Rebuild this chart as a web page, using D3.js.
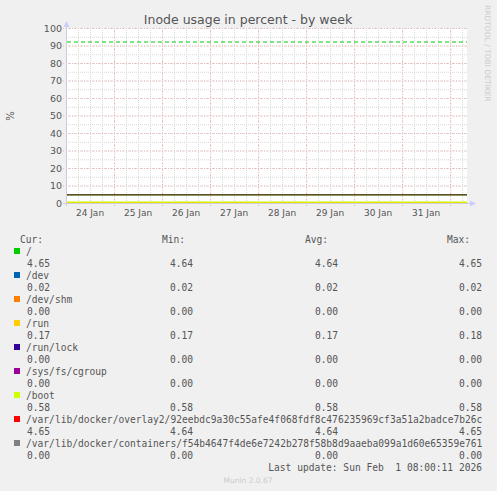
<!DOCTYPE html>
<html><head><meta charset="utf-8">
<script src="https://cdn.jsdelivr.net/npm/d3@7"></script>
<style>body{margin:0;background:#f0f0f0}</style>
</head><body><div id="chart"></div>
<script>
var names = ["/", "/dev", "/dev/shm", "/run", "/run/lock", "/sys/fs/cgroup", "/boot",
  "/var/lib/docker/overlay2/92eebdc9a30c55afe4f068fdf8c476235969cf3a51a2badce7b26c",
  "/var/lib/docker/containers/f54b4647f4de6e7242b278f58b8d9aaeba099a1d60e65359e761"];
var colors = ["#00cc00", "#0066b3", "#ff8000", "#ffcc00", "#330099", "#990099", "#ccff00", "#ff0000", "#808080"];
var cur = ["4.65", "0.02", "0.00", "0.17", "0.00", "0.00", "0.58", "4.65", "0.00"];
var mins = ["4.64", "0.02", "0.00", "0.17", "0.00", "0.00", "0.58", "4.64", "0.00"];
var avgs = ["4.64", "0.02", "0.00", "0.17", "0.00", "0.00", "0.58", "4.64", "0.00"];
var maxs = ["4.65", "0.02", "0.00", "0.18", "0.00", "0.00", "0.58", "4.65", "0.00"];
var warnLevel = 92;
var yTicks = [0, 10, 20, 30, 40, 50, 60, 70, 80, 90, 100];
var dayLabels = ["24 Jan", "25 Jan", "26 Jan", "27 Jan", "28 Jan", "29 Jan", "30 Jan", "31 Jan"];

var W = 497, H = 491;
var svg = d3.select("#chart").append("svg").attr("width", W).attr("height", H);
svg.append("rect").attr("width", W).attr("height", H).attr("fill", "#f0f0f0");

var t0 = new Date(2026, 0, 24, 0, 0), t1 = new Date(2026, 1, 1, 8, 25);
var x = d3.scaleTime().domain([t0, t1]).range([66, 467]);
var y = d3.scaleLinear().domain([0, 100]).range([203, 28]);

svg.append("rect").attr("x", 66).attr("y", 28).attr("width", 401).attr("height", 175).attr("fill", "#fff");

// minor grid
var minorX = d3.timeHour.every(6).range(t0, t1);
svg.selectAll(".mx").data(minorX).enter().append("line")
  .attr("x1", d => x(d) + 0.5).attr("x2", d => x(d) + 0.5).attr("y1", 28).attr("y2", 203)
  .attr("stroke", "#d8d8d8").attr("stroke-dasharray", "1,1");
svg.selectAll(".my").data(d3.range(0, 101, 5)).enter().append("line")
  .attr("x1", 66).attr("x2", 467).attr("y1", d => y(d) + 0.5).attr("y2", d => y(d) + 0.5)
  .attr("stroke", "#d8d8d8").attr("stroke-dasharray", "1,1");
// major grid
var days = d3.timeDay.range(d3.timeDay.offset(t0, 1), t1);
svg.selectAll(".Mx").data(days).enter().append("line")
  .attr("x1", d => x(d) + 0.5).attr("x2", d => x(d) + 0.5).attr("y1", 28).attr("y2", 206)
  .attr("stroke", "#f4b4b4").attr("stroke-dasharray", "1,2");
svg.selectAll(".My").data(yTicks).enter().append("line")
  .attr("x1", 63).attr("x2", 467).attr("y1", d => y(d) + 0.5).attr("y2", d => y(d) + 0.5)
  .attr("stroke", "#f4b4b4").attr("stroke-dasharray", "1,2");

svg.selectAll(".yl").data(yTicks).enter().append("text")
  .attr("x", 62).attr("y", d => y(d) + 3.5).attr("text-anchor", "end")
  .attr("font-family", "DejaVu Sans").attr("font-size", 9.5).attr("fill", "#555").text(d => d);
svg.selectAll(".xl").data(dayLabels).enter().append("text")
  .attr("x", (d, i) => x(d3.timeHour.offset(t0, 24 * i + 12))).attr("y", 216).attr("text-anchor", "middle")
  .attr("font-family", "DejaVu Sans").attr("font-size", 9).attr("fill", "#555").text(d => d);

svg.append("line").attr("x1", 67).attr("x2", 467).attr("y1", y(warnLevel)).attr("y2", y(warnLevel))
  .attr("stroke", "#00cc00").attr("stroke-dasharray", "4,3");

var vals = cur.map(Number);
var order = [0, 1, 2, 4, 5, 8, 3, 6, 7];
order.forEach(function(i) {
  var yy = Math.min(y(vals[i]), 202.5);
  svg.append("line").attr("x1", 67).attr("x2", 467).attr("y1", yy).attr("y2", yy)
    .attr("stroke", i === 7 ? "#600" : colors[i]).attr("stroke-width", 1);
});

svg.append("line").attr("x1", 66.5).attr("x2", 66.5).attr("y1", 24).attr("y2", 206).attr("stroke", "#ccd");
svg.append("line").attr("x1", 63).attr("x2", 471).attr("y1", 203.5).attr("y2", 203.5).attr("stroke", "#ccd");
svg.append("path").attr("d", "M63.5,27 L66.5,21 L69.5,27Z").attr("fill", "#ccf");
svg.append("path").attr("d", "M470,200.5 L476,203.5 L470,206.5Z").attr("fill", "#ccf");

svg.append("text").attr("x", 248).attr("y", 24).attr("text-anchor", "middle")
  .attr("font-family", "DejaVu Sans").attr("font-size", 12.5).attr("fill", "#555").text("Inode usage in percent - by week");
svg.append("text").attr("transform", "translate(14,116) rotate(-90)").attr("text-anchor", "middle")
  .attr("font-family", "DejaVu Sans").attr("font-size", 10).attr("fill", "#555").text("%");
svg.append("text").attr("transform", "translate(485,5) rotate(90)")
  .attr("font-family", "DejaVu Sans").attr("font-size", 7.5).attr("fill", "#ccc").text("RRDTOOL / TOBI OETIKER");

var mono = "DejaVu Sans Mono", fs = 9.6, col = "#555";
function t(xp, yp, s, anchor) {
  svg.append("text").attr("x", xp).attr("y", yp).attr("text-anchor", anchor || "start")
    .attr("font-family", mono).attr("font-size", fs).attr("fill", col).attr("xml:space", "preserve").text(s);
}
t(20, 243, "Cur:"); t(162, 243, "Min:"); t(305, 243, "Avg:"); t(447, 243, "Max:");
names.forEach(function(n, i) {
  var yb = 255 + i * 24;
  svg.append("rect").attr("x", 14).attr("y", yb - 7).attr("width", 6).attr("height", 6).attr("fill", colors[i]);
  t(26, yb, n);
  t(27, yb + 12, cur[i]); t(193, yb + 12, mins[i], "end"); t(338, yb + 12, avgs[i], "end"); t(482, yb + 12, maxs[i], "end");
});
t(482, 471, "Last update: Sun Feb  1 08:00:11 2026", "end");
svg.append("text").attr("x", 248).attr("y", 483).attr("text-anchor", "middle")
  .attr("font-family", "DejaVu Sans").attr("font-size", 7.5).attr("fill", "#ccc").text("Munin 2.0.67");
</script></body></html>
